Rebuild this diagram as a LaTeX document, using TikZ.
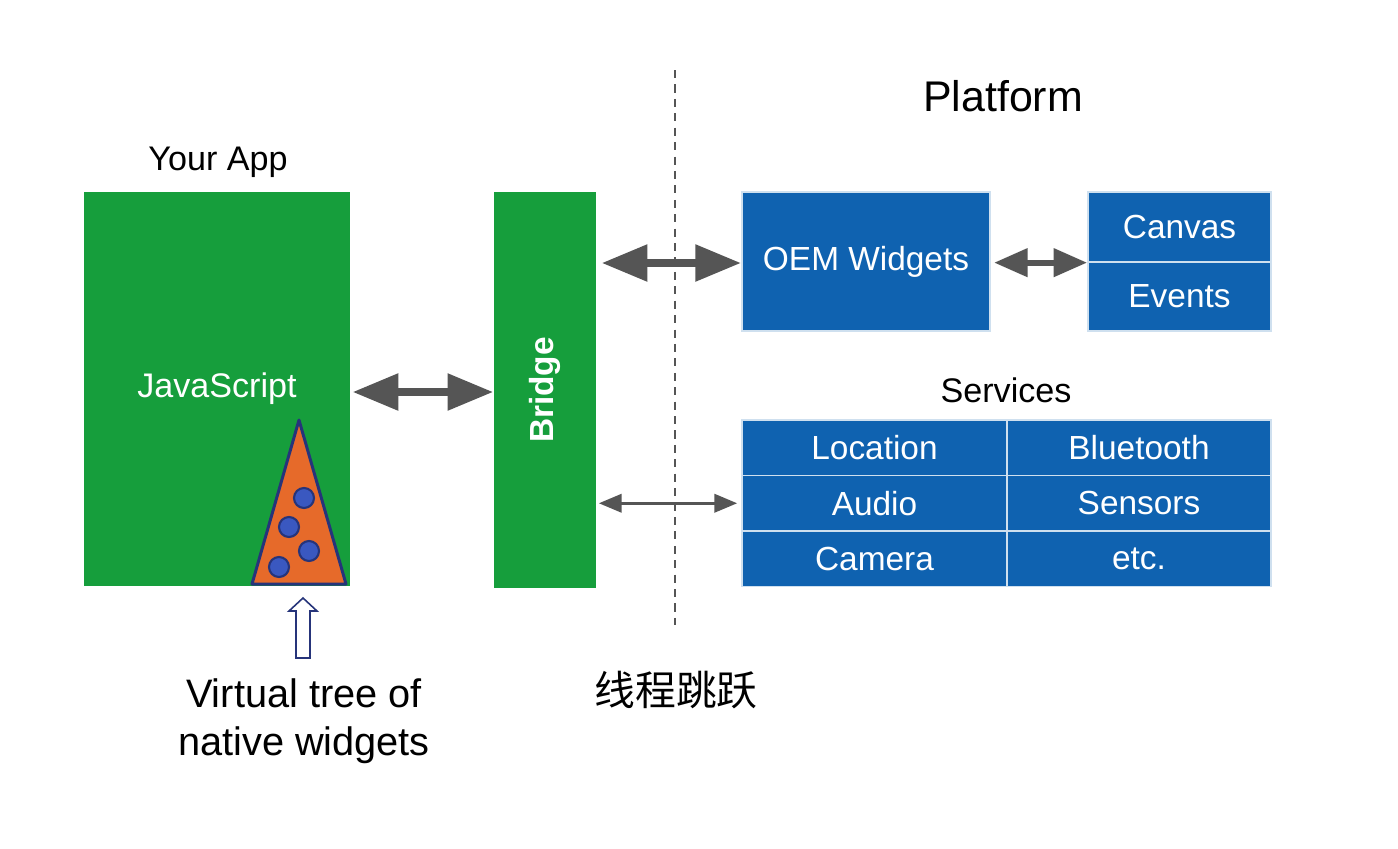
\documentclass[tikz,border=0pt]{standalone}
\usepackage{fontspec}
\setmainfont{Liberation Sans}
\newfontfamily\cjk{Noto Sans CJK SC}
\usetikzlibrary{arrows.meta,positioning}
\definecolor{appgreen}{RGB}{22,158,60}
\definecolor{platblue}{RGB}{15,98,176}
\definecolor{treeorange}{RGB}{230,106,42}
\definecolor{dotblue}{RGB}{58,88,192}
\definecolor{navyline}{RGB}{38,52,122}
\definecolor{arrowgray}{RGB}{85,85,85}
\tikzset{
  greenbox/.style={fill=appgreen, text=white, inner sep=0pt, font=\fontsize{9.7}{11}\selectfont},
  bluebox/.style ={fill=platblue, draw=white!80!platblue, line width=0.5pt, text=white, inner sep=0pt, font=\fontsize{9.5}{11}\selectfont},
  heading/.style ={inner sep=0pt, font=\fontsize{9.7}{11}\selectfont},
  dot/.style     ={circle, fill=dotblue, draw=navyline, line width=0.6pt, minimum size=0.2cm, inner sep=0pt},
  bigflow/.style ={{Triangle[length=13pt,width=10pt]}-{Triangle[length=13pt,width=10pt]}, line width=2.3pt, draw=arrowgray},
  midflow/.style ={{Triangle[length=9.5pt,width=7.8pt]}-{Triangle[length=9.5pt,width=7.8pt]}, line width=1.7pt, draw=arrowgray},
  thinflow/.style={{Triangle[length=6.5pt,width=5.2pt]}-{Triangle[length=6.5pt,width=5.2pt]}, line width=0.85pt, draw=arrowgray}
}
\begin{document}
\begin{tikzpicture}[x=0.01cm, y=-0.01cm]
  \useasboundingbox[fill=white] (0,0) rectangle (1398,848);
  % app side
  \node[heading] (app) at (218,162) {Your App};
  \node[greenbox, minimum width=2.66cm, minimum height=3.94cm] (js) at (217,389) {JavaScript};
  \draw[fill=treeorange, draw=navyline, line width=0.85pt, line join=round] (299,420) -- (346,584) -- (252,584) -- cycle;
  \node[dot] (d1) at (304,498) {};
  \node[dot] (d2) at (289,527) {};
  \node[dot] (d3) at (309,551) {};
  \node[dot] (d4) at (279,567) {};
  \draw[fill=white, draw=navyline, line width=0.45pt] (303,598) -- (317,611) -- (310,611) -- (310,658) -- (296,658) -- (296,611) -- (289,611) -- cycle;
  \node[align=center, inner sep=0pt, font=\fontsize{11.3}{13.6}\selectfont] (vtree) at (304,721) {Virtual tree of\\native widgets};
  \node[greenbox, minimum width=1.02cm, minimum height=3.95cm, font=\fontsize{9.5}{11}\selectfont\bfseries] (bridge) at (545,390) {\rotatebox{90}{Bridge}};
  % thread boundary
  \draw[arrowgray, line width=0.45pt, dash pattern=on 2.3pt off 1.8pt] (675,70) -- (675,625);
  \node[inner sep=0pt, font=\cjk\fontsize{11.6}{14}\selectfont] (jump) at (676,690) {线程跳跃};
  % platform side
  \node[inner sep=0pt, font=\fontsize{12.2}{14}\selectfont] (plat) at (1003,96) {Platform};
  \node[bluebox, minimum width=2.48cm, minimum height=1.39cm] (oem) at (866,261.5) {OEM Widgets};
  \node[bluebox, minimum width=1.83cm, minimum height=0.695cm] (canvas) at (1179.5,227) {Canvas};
  \node[bluebox, minimum width=1.83cm, minimum height=0.695cm] (events) at (1179.5,296.5) {Events};
  \node[heading] (serv) at (1006,390) {Services};
  \node[bluebox, minimum width=2.65cm, minimum height=0.555cm] (loc)  at (874.5,447.75) {Location};
  \node[bluebox, minimum width=2.64cm, minimum height=0.555cm] (blue) at (1139,447.75) {Bluetooth};
  \node[bluebox, minimum width=2.65cm, minimum height=0.555cm] (aud)  at (874.5,503.25) {Audio};
  \node[bluebox, minimum width=2.64cm, minimum height=0.555cm] (sens) at (1139,503.25) {Sensors};
  \node[bluebox, minimum width=2.65cm, minimum height=0.555cm] (cam)  at (874.5,558.75) {Camera};
  \node[bluebox, minimum width=2.64cm, minimum height=0.555cm] (etc)  at (1139,558.75) {etc.};
  % connectors
  \draw[bigflow, shorten <=0.5pt] (js.east |- 0,392) -- (bridge.west |- 0,392);
  \draw[bigflow, shorten <=1.4pt] (bridge.east |- 0,263) -- (oem.west |- 0,263);
  \draw[midflow, shorten <=0.9pt] (oem.east |- canvas.south) -- (canvas.south west);
  \draw[thinflow, shorten <=0.6pt, shorten >=1.1pt] (bridge.east |- aud) -- (aud.west);
\end{tikzpicture}
\end{document}
